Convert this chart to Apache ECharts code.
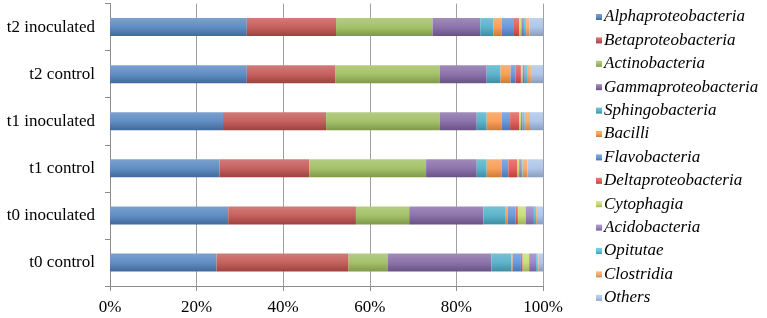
<!DOCTYPE html>
<html>
<head>
<meta charset="utf-8">
<script src="https://cdn.jsdelivr.net/npm/echarts@6/dist/echarts.min.js"></script>
<style>
  html, body { margin: 0; padding: 0; background: #fff; }
  #chart { width: 767px; height: 318px; }
</style>
</head>
<body>
<div id="chart"></div>
<script>
// samples, bottom to top
var samples = ['t0 control', 't0 inoculated', 't1 control', 't1 inoculated', 't2 control', 't2 inoculated'];
var xTicks = [0, 20, 40, 60, 80, 100];

// relative abundance (%) per class, same order as samples
var alphaproteobacteria = [24.6, 27.3, 25.3, 26.1, 31.6, 31.6];
var betaproteobacteria  = [30.5, 29.5, 20.7, 23.8, 20.5, 20.6];
var actinobacteria      = [9.0, 12.3, 27.0, 26.3, 24.1, 22.3];
var gammaproteobacteria = [24.0, 17.1, 11.7, 8.5, 10.8, 11.0];
var sphingobacteria     = [4.6, 5.2, 2.3, 2.3, 3.2, 3.0];
var bacilli             = [0.3, 0.4, 3.5, 3.5, 2.3, 2.0];
var flavobacteria       = [1.9, 1.9, 1.5, 1.9, 1.2, 2.6];
var deltaproteobacteria = [0.4, 0.5, 2.1, 2.1, 1.2, 1.4];
var cytophagia          = [1.5, 1.8, 0.4, 0.4, 0.4, 0.5];
var acidobacteria       = [1.6, 1.9, 0.4, 0.4, 0.5, 0.6];
var opitutae            = [0.4, 0.5, 0.4, 0.5, 0.5, 0.5];
var clostridia          = [0.2, 0.2, 1.1, 1.2, 0.9, 0.8];
var others              = [1.0, 1.4, 3.6, 3.0, 2.8, 3.1];

var classNames = ['Alphaproteobacteria', 'Betaproteobacteria', 'Actinobacteria', 'Gammaproteobacteria',
    'Sphingobacteria', 'Bacilli', 'Flavobacteria', 'Deltaproteobacteria', 'Cytophagia',
    'Acidobacteria', 'Opitutae', 'Clostridia', 'Others'];
var classData = [alphaproteobacteria, betaproteobacteria, actinobacteria, gammaproteobacteria,
    sphingobacteria, bacilli, flavobacteria, deltaproteobacteria, cytophagia,
    acidobacteria, opitutae, clostridia, others];
var colorList = ['#4F81BD', '#C0504D', '#9BBB59', '#8064A2', '#4BACC6', '#F79646',
    '#5B8FDA', '#E0504D', '#C3DC6A', '#9478C0', '#4BC3DD', '#F8A35C', '#A7C0E8'];

function mix(hex, target, t) {
    var r = parseInt(hex.substr(1, 2), 16), g = parseInt(hex.substr(3, 2), 16), b = parseInt(hex.substr(5, 2), 16);
    r = Math.round(r + (target - r) * t);
    g = Math.round(g + (target - g) * t);
    b = Math.round(b + (target - b) * t);
    return 'rgb(' + r + ',' + g + ',' + b + ')';
}
function barFill(hex) {
    // office style shading: light on top, darker at the bottom
    return new echarts.graphic.LinearGradient(0, 0, 0, 1, [
        {offset: 0, color: mix(hex, 255, 0.25)},
        {offset: 0.5, color: mix(hex, 255, 0.1)},
        {offset: 1, color: mix(hex, 0, 0.18)}
    ]);
}

var serif = '"Liberation Serif", "Times New Roman", serif';

var series = classNames.map(function (name, i) {
    return {
        name: name,
        type: 'bar',
        stack: 'total',
        barWidth: 18,
        itemStyle: {color: barFill(colorList[i])},
        data: classData[i]
    };
});

var chart = echarts.init(document.getElementById('chart'));
chart.setOption({
    animation: false,
    color: colorList,
    grid: {left: 110, right: 224, top: 3.5, bottom: 32},
    legend: {
        orient: 'vertical',
        left: 596,
        top: 8.5,
        padding: 0,
        icon: 'rect',
        itemWidth: 6,
        itemHeight: 6,
        itemGap: 6.4,
        data: classNames,
        textStyle: {fontFamily: serif, fontStyle: 'italic', fontSize: 17, color: '#000', lineHeight: 17, padding: [0, 0, 0, -3]}
    },
    xAxis: {
        type: 'value',
        min: xTicks[0],
        max: xTicks[xTicks.length - 1],
        interval: 20,
        axisLine: {show: true, lineStyle: {color: '#8C8C8C'}},
        axisTick: {show: true, length: 5, lineStyle: {color: '#8C8C8C'}},
        splitLine: {show: true, lineStyle: {color: '#A0A0A0'}},
        axisLabel: {formatter: '{value}%', fontFamily: serif, fontSize: 17, color: '#000', margin: 13}
    },
    yAxis: {
        type: 'category',
        data: samples,
        axisLine: {show: true, lineStyle: {color: '#8C8C8C'}},
        axisTick: {show: true, length: 5, lineStyle: {color: '#8C8C8C'}},
        axisLabel: {fontFamily: serif, fontSize: 17, color: '#000', margin: 15}
    },
    series: series
});
</script>
</body>
</html>
